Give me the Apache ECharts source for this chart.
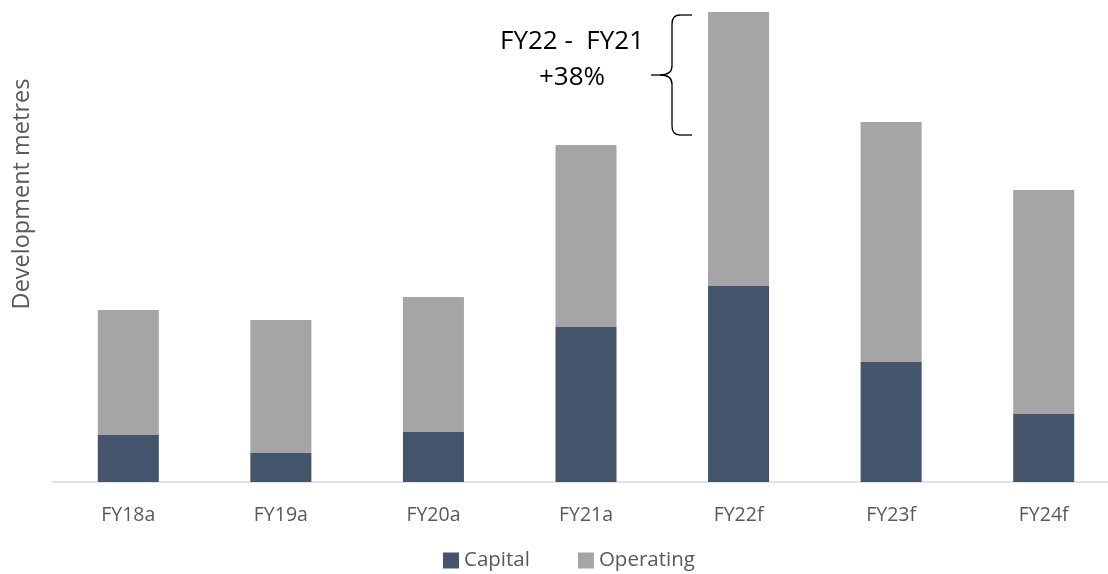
<!DOCTYPE html>
<html>
<head>
<meta charset="utf-8">
<script src="https://cdn.jsdelivr.net/npm/echarts@6/dist/echarts.min.js"></script>
<style>
  html, body { margin: 0; padding: 0; background: #fff; overflow: hidden; }
  /* a bit wider than the window: the last category runs off the right edge */
  #chart { width: 1120px; height: 574px; }
</style>
</head>
<body>
<div id="chart"></div>
<script>
// Years shown on the x axis
const categories = ['FY18a', 'FY19a', 'FY20a', 'FY21a', 'FY22f', 'FY23f', 'FY24f'];
// Development metres (relative units)
const capital = [47, 29, 50, 155, 196, 120, 68];
const operating = [125, 133, 135, 182, 274, 240, 224];

const FONT = '"Open Sans", "Noto Sans", sans-serif';
const TEXT_GREY = '#595959';

let chart = echarts.init(document.getElementById('chart'));

// curly brace next to the FY22f bar, built from lines and curves
const braceStyle = { stroke: '#000', lineWidth: 1.3, fill: null };
const brace = [
    { type: 'line', shape: { x1: 692, y1: 15, x2: 680, y2: 15 } },
    { type: 'bezierCurve', shape: { x1: 680, y1: 15, x2: 672, y2: 24, cpx1: 672, cpy1: 15 } },
    { type: 'line', shape: { x1: 672, y1: 24, x2: 672, y2: 66 } },
    { type: 'bezierCurve', shape: { x1: 672, y1: 66, x2: 660, y2: 75, cpx1: 672, cpy1: 75 } },
    { type: 'line', shape: { x1: 660, y1: 75, x2: 651, y2: 75 } },
    { type: 'bezierCurve', shape: { x1: 660, y1: 75, x2: 672, y2: 84, cpx1: 672, cpy1: 75 } },
    { type: 'line', shape: { x1: 672, y1: 84, x2: 672, y2: 126 } },
    { type: 'bezierCurve', shape: { x1: 672, y1: 126, x2: 680, y2: 135, cpx1: 672, cpy1: 135 } },
    { type: 'line', shape: { x1: 680, y1: 135, x2: 692, y2: 135 } }
].map(el => Object.assign(el, { style: braceStyle }));

let option = {
    animation: false,
    grid: { left: 52, top: 12, bottom: 92, right: 0 },
    legend: {
        data: ['Capital', 'Operating'],
        top: 545,
        left: 438,
        itemWidth: 16,
        itemHeight: 16,
        itemGap: 48,
        icon: 'rect',
        textStyle: { color: TEXT_GREY, fontSize: 20.5, fontFamily: FONT }
    },
    xAxis: {
        type: 'category',
        data: categories,
        axisLine: { lineStyle: { color: '#D9D9D9', width: 1.5 } },
        axisTick: { show: false },
        axisLabel: { color: TEXT_GREY, fontSize: 19.5, fontFamily: FONT, margin: 23 }
    },
    yAxis: {
        type: 'value',
        min: 0,
        max: 470,
        axisLine: { show: false },
        axisTick: { show: false },
        axisLabel: { show: false },
        splitLine: { show: false }
    },
    series: [
        { name: 'Capital', type: 'bar', stack: 'dev', data: capital, barWidth: '40%',
          itemStyle: { color: '#44546A' } },
        { name: 'Operating', type: 'bar', stack: 'dev', data: operating, barWidth: '40%',
          itemStyle: { color: '#A5A5A5' } }
    ],
    graphic: [
        {
            type: 'text', x: 22, y: 194, rotation: Math.PI / 2,
            style: {
                text: 'Development metres', fill: TEXT_GREY, fontSize: 23.5, fontFamily: FONT,
                align: 'center', verticalAlign: 'middle'
            }
        },
        {
            type: 'text', x: 572, y: 42,
            style: { text: 'FY22 -  FY21', fill: '#000', fontSize: 26, fontFamily: FONT,
                     align: 'center', verticalAlign: 'middle' }
        },
        {
            type: 'text', x: 572, y: 78,
            style: { text: '+38%', fill: '#000', fontSize: 26, fontFamily: FONT,
                     align: 'center', verticalAlign: 'middle' }
        }
    ].concat(brace)
};

chart.setOption(option);
window.addEventListener('resize', () => chart.resize());
</script>
</body>
</html>
